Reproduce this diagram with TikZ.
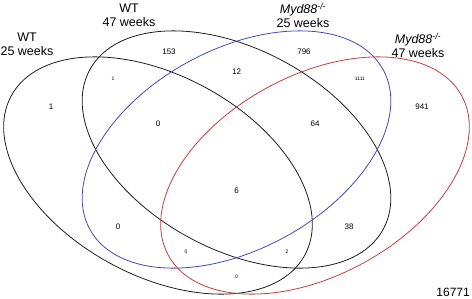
\documentclass[tikz,border=0pt]{standalone}
\usepackage{fontspec}
\setmainfont{Liberation Sans}
\definecolor{vblue}{RGB}{72,72,178}
\definecolor{vred}{RGB}{192,64,64}
\definecolor{vblack}{RGB}{30,30,30}
\begin{document}
\begin{tikzpicture}[x=1pt,y=-1pt,
  venn/.style={line width=0.8pt},
  title/.style={font=\fontsize{12.5}{14}\selectfont, inner sep=0pt, align=center},
  num/.style={font=\fontsize{8}{9}\selectfont, inner sep=0pt},
  tiny/.style={font=\fontsize{5}{6}\selectfont, inner sep=0pt}]
\useasboundingbox (0,0) rectangle (472,298);
% ellipses
\draw[venn, vblack, shift={(158,175.5)}, rotate=-28.5] (0,0) ellipse (167pt and 100pt);
\draw[venn, vblack, shift={(236.5,149.5)}, rotate=-28.5] (0,0) ellipse (167pt and 100pt);
\draw[venn, vblue, shift={(236.5,149.5)}, rotate=28.5] (0,0) ellipse (167pt and 100pt);
\draw[venn, vred, shift={(315,175.5)}, rotate=28.5] (0,0) ellipse (167pt and 100pt);
% titles
\node[title] (t1) at (27,44.5) {WT\\25 weeks};
\node[title] (t2) at (129,15.5) {WT\\47 weeks};
\node[title] (t3) at (303,15.5) {\textit{Myd88}\textsuperscript{\textit{-/-}}\\25 weeks};
\node[title] (t4) at (418,45.5) {\textit{Myd88}\textsuperscript{\textit{-/-}}\\47 weeks};
% counts
\node[num] (n153) at (169,52) {153};
\node[num] (n12) at (236.5,72) {12};
\node[num] (n796) at (304,52) {796};
\node[tiny] (n1a) at (113,79) {1};
\node[tiny] (n1111) at (360,79) {1111};
\node[num] (n1b) at (51,107) {1};
\node[num] (n941) at (422,107) {941};
\node[num] (n0a) at (158,124) {0};
\node[num] (n64) at (315,124) {64};
\node[num] (n6) at (236.5,191) {6};
\node[num] (n0b) at (118,227) {0};
\node[num] (n38) at (349,227) {38};
\node[tiny] (n0c) at (186,252) {0};
\node[tiny] (n2) at (287,252) {2};
\node[tiny] (n0d) at (236.5,277) {0};
\node[font=\fontsize{12}{14}\selectfont, inner sep=0pt, anchor=east] (tot) at (470,292) {16771};
\end{tikzpicture}
\end{document}
